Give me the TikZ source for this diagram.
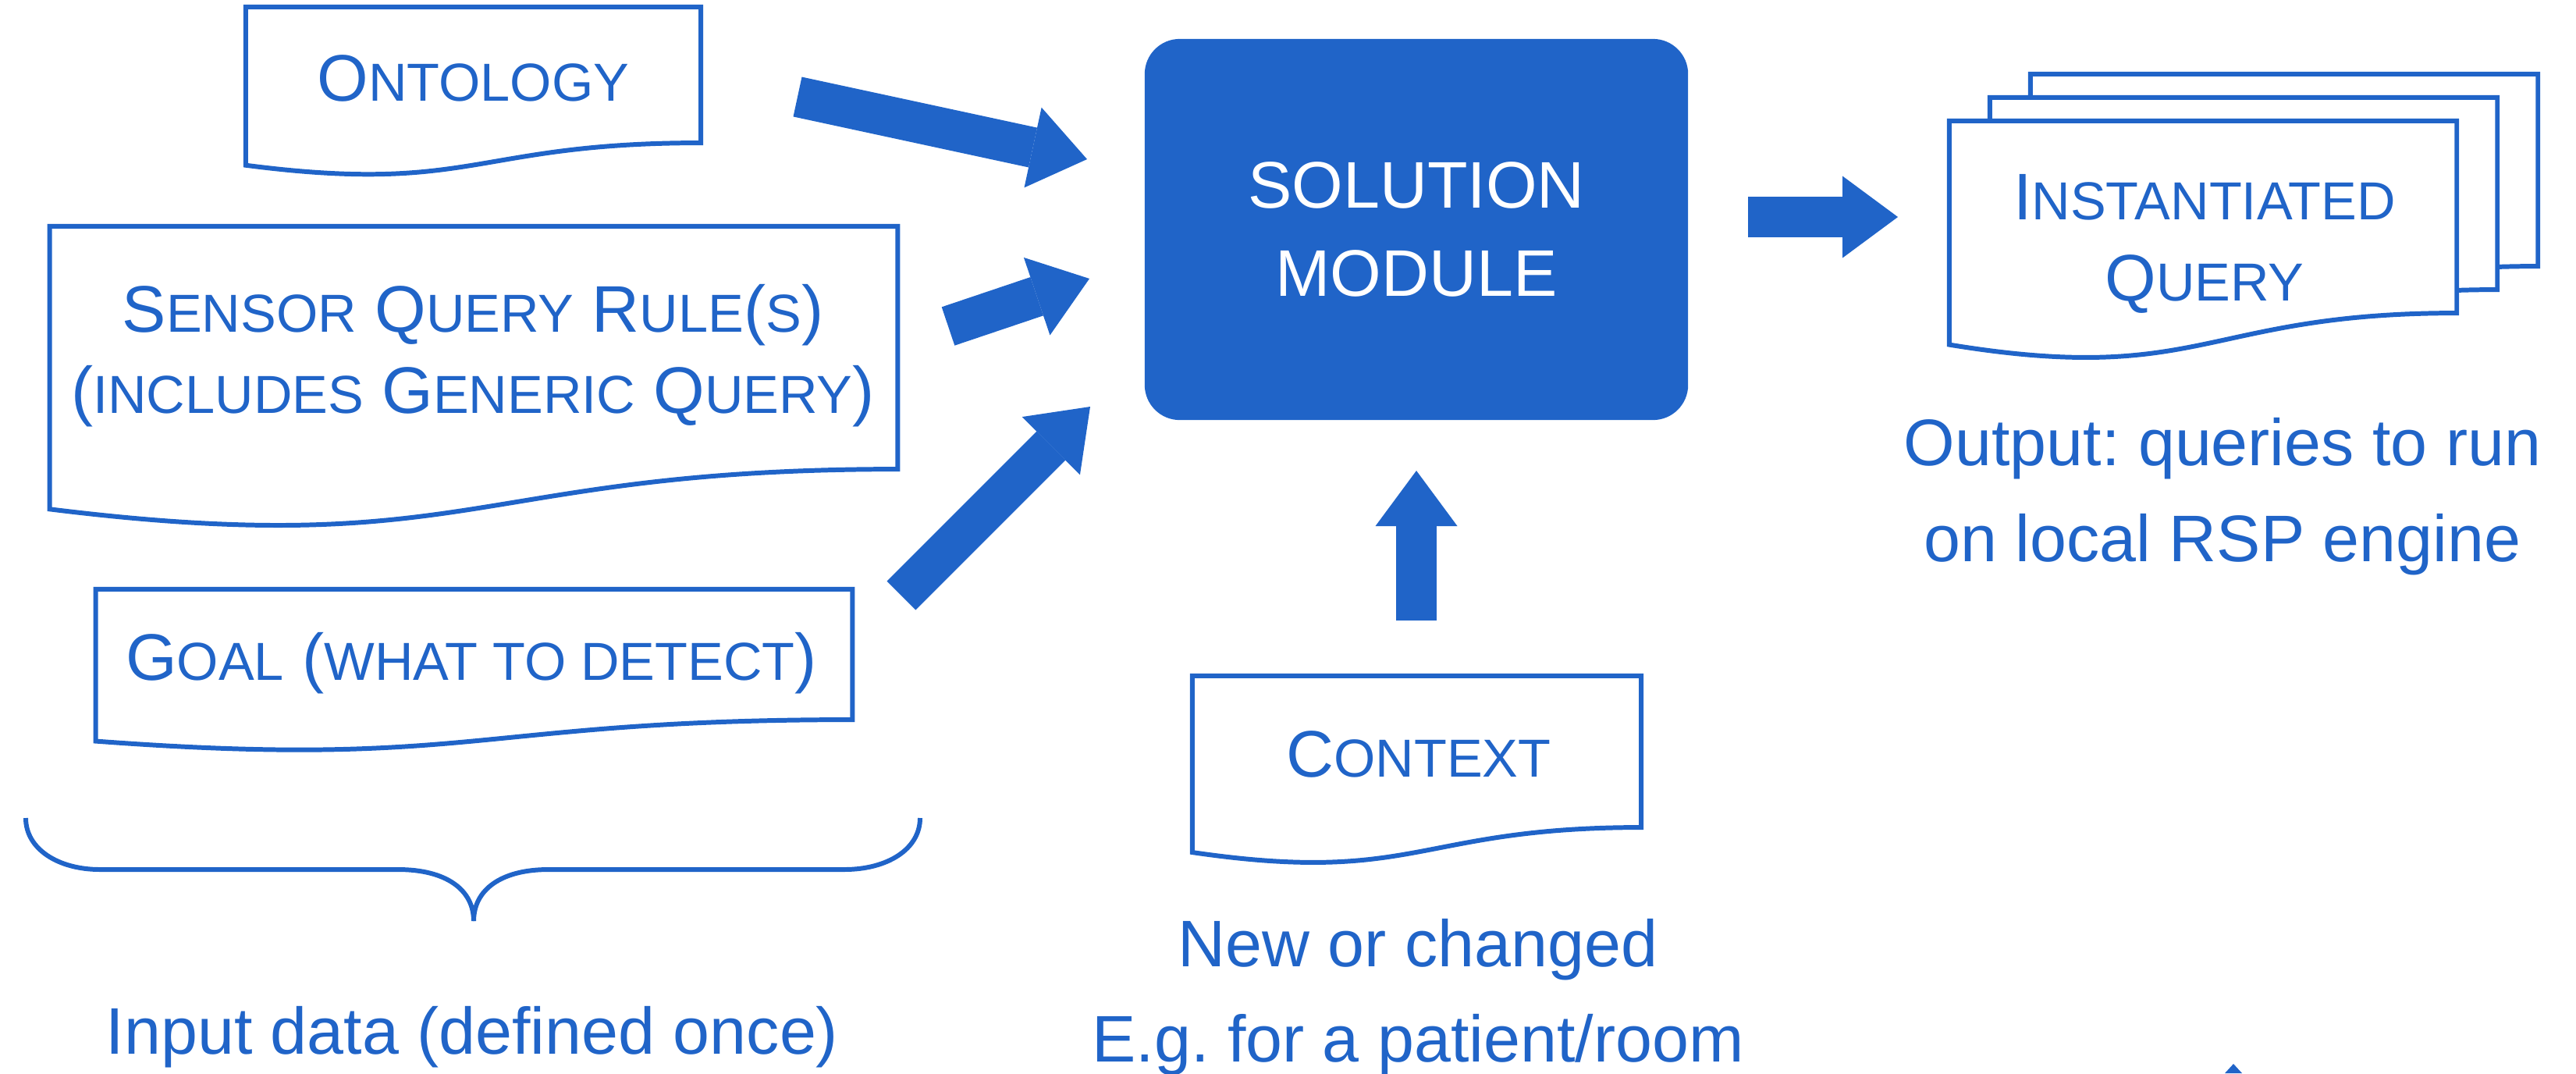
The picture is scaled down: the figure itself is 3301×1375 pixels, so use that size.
\documentclass[tikz,border=0pt]{standalone}
\usepackage{fontspec}
\setmainfont{Liberation Sans}
\usetikzlibrary{calc,arrows.meta}
\definecolor{bblue}{RGB}{32,100,200}
\frenchspacing
% fake small capitals: upper-case letters at a reduced size
\newcommand\smc[1]{{\fontsize{19.5}{29.3}\selectfont #1}}
% flowchart "document" outline around a named rectangular node
\newcommand\docshape[2][]{%
  \draw[docline,#1] (#2.north west) -- (#2.north east) -- (#2.south east)
    .. controls (#2.south) and ($(#2.north)!1.381!(#2.south)$)
    .. ($(#2.north west)!1.1646!(#2.south west)$) -- cycle;}
\begin{document}
\begin{tikzpicture}[x=0.01cm, y=-0.01cm,
  docline/.style={draw=bblue, line width=1.7pt},
  docbox/.style={draw=none, inner sep=0pt, outer sep=0pt},
  lbl/.style={text=bblue, anchor=base, inner sep=0pt, align=center,
              font=\fontsize{24}{29.3}\selectfont},
  note/.style={text=bblue, anchor=base, inner sep=0pt, align=center,
               font=\fontsize{24}{34.7}\selectfont},
  solbox/.style={fill=bblue, draw=none, rounded corners=0.45cm,
                 minimum width=6.96cm, minimum height=4.88cm, text=white,
                 align=center, font=\fontsize{24}{31.9}\selectfont},
  blockarrow/.style={draw=bblue, line width=0.52cm,
    -{Triangle[length=0.71cm, width=1.05cm, line width=0pt, fill=bblue]}}]
\useasboundingbox (0,0) rectangle (3301,1375);

% input documents
\node[docbox, minimum width=5.83cm, minimum height=1.74cm] (ont) at (606.5,96) {};
\node[docbox, minimum width=10.86cm, minimum height=3.11cm] (sqr) at (607,445.5) {};
\node[docbox, minimum width=9.69cm, minimum height=1.67cm] (goal) at (607.5,838.5) {};
\node[docbox, minimum width=5.75cm, minimum height=1.94cm] (ctx) at (1815.5,963) {};
\docshape{ont}
\docshape{sqr}
\docshape{goal}
\docshape{ctx}

% stack of output documents
\node[docbox, minimum width=6.5cm, minimum height=2.46cm] (inst3) at (2927,218) {};
\node[docbox, minimum width=6.5cm, minimum height=2.46cm] (inst2) at (2875,248) {};
\node[docbox, minimum width=6.5cm, minimum height=2.46cm] (inst1) at (2823,278) {};
\docshape[fill=white]{inst3}
\docshape[fill=white]{inst2}
\docshape[fill=white]{inst1}

% document captions (anchored on the baseline of the last line)
\node[lbl] (ontT) at (606.5,129) {O\smc{NTOLOGY}};
\node[lbl] (sqrT) at (606,529) {S\smc{ENSOR} Q\smc{UERY} R\smc{ULE}(\smc{S})\\(\smc{INCLUDES} G\smc{ENERIC} Q\smc{UERY})};
\node[lbl] (goalT) at (604,871) {G\smc{OAL} (\smc{WHAT TO DETECT})};
\node[lbl] (ctxT) at (1818,995) {C\smc{ONTEXT}};
\node[lbl] (instT) at (2825,385) {I\smc{NSTANTIATED}\\Q\smc{UERY}};

% central module
\node[solbox] (sol) at (1815,294) {SOLUTION\\MODULE};

% block arrows
\coordinate (a1s) at (1022,124);  \coordinate (a1e) at (1393,204);
\coordinate (a2s) at (1215,418);  \coordinate (a2e) at (1396,357);
\coordinate (a3s) at (1155,763);  \coordinate (a3e) at (1397,521);
\coordinate (a4s) at (1815,795);  \coordinate (a4e) at (1815,603);
\coordinate (a5s) at (2240,278);  \coordinate (a5e) at (2432,278);
\draw[blockarrow] (a1s) -- (a1e);
\draw[blockarrow] (a2s) -- (a2e);
\draw[blockarrow] (a3s) -- (a3e);
\draw[blockarrow] (a4s) -- (a4e);
\draw[blockarrow] (a5s) -- (a5e);

% brace under the input documents
\draw[docline] (33,1048) .. controls (33,1088) and (75,1114) .. (128,1114)
  -- (510,1114) .. controls (572,1114) and (607,1140) .. (607,1180);
\draw[docline] (607,1180) .. controls (607,1140) and (642,1114) .. (703,1114)
  -- (1082,1114) .. controls (1137,1114) and (1179,1088) .. (1179,1048);

% notes
\node[note] (outT) at (2848,719) {Output: queries to run\\on local RSP engine};
\node[note] (ctxN) at (1817,1360) {New or changed\\E.g. for a patient/room};
\node[note] (inN) at (605,1350) {Input data (defined once)};

% small mark at the lower edge
\fill[bblue] (2862,1363) -- (2873,1375) -- (2851,1375) -- cycle;
\end{tikzpicture}
\end{document}
